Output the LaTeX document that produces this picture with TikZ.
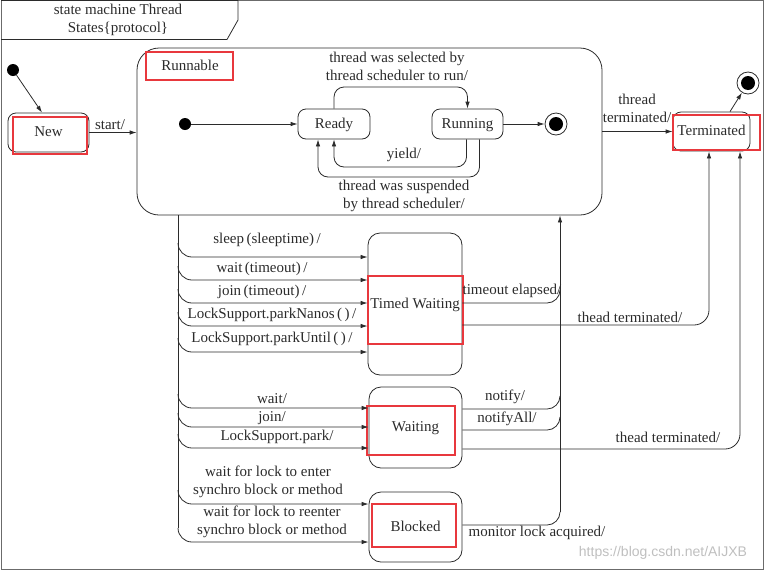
\documentclass[tikz,border=0pt]{standalone}
\usepackage{fontspec}
\setmainfont{Liberation Serif}
\newfontfamily\wmfont{Liberation Sans}
\usetikzlibrary{arrows.meta}
\definecolor{ink}{HTML}{2B2B2B}
\definecolor{hl}{HTML}{E8383D}
\begin{document}
\begin{tikzpicture}[x=1pt,y=-1pt,
  every node/.style={font=\fontsize{15}{18}\selectfont, text=ink},
  lbl/.style={inner sep=0pt, align=center},
  state/.style={draw=ink, line width=0.8pt, rounded corners=8, inner sep=0pt, text height=10pt, text depth=2pt},
  redbox/.style={draw=hl, line width=2.6pt},
  conn/.style={draw=ink, line width=0.8pt},
  arr/.style={conn, -{Latex[length=7pt,width=4.5pt]}},
  dot/.style={circle, fill=black, inner sep=0pt, minimum size=12pt},
  fin/.style={circle, draw=ink, line width=0.8pt, inner sep=0pt, minimum size=22pt},
]
\useasboundingbox (0,0) rectangle (767,571);
% frame and header
\draw[ink!70, line width=0.8pt] (1,0.5) rectangle (763,569);
\draw[ink, line width=0.8pt] (1,0.5) -- (238,0.5) -- (238,20) -- (227,39.5) -- (1,39.5);
\node[lbl] (header) at (118,19.5) {state machine Thread\\States\{protocol\}};

% states
\node[dot] (init1) at (13,70) {};
\node[state, minimum width=81pt, minimum height=39pt] (new) at (48.5,132.5) {New};
\node[state, rounded corners=22, minimum width=465pt, minimum height=167pt] (runnable) at (369.5,131.5) {};
\node[lbl] (runlabel) at (190,65) {Runnable};
\node[dot] (init2) at (185,124) {};
\node[state, minimum width=72pt, minimum height=30pt] (ready) at (334,124) {Ready};
\node[state, minimum width=71pt, minimum height=30pt] (running) at (467.5,124) {Running};
\node[fin] (fin1) at (556,124) {};
\fill[black] (fin1.center) circle (7pt);
\node[state, minimum width=77pt, minimum height=39pt] (terminated) at (711.5,131.5) {Terminated};
\node[fin] (fin2) at (748,83) {};
\fill[black] (fin2.center) circle (7pt);
\node[state, rounded corners=12, minimum width=94pt, minimum height=142pt] (timed) at (415,304) {Timed Waiting};
\node[state, rounded corners=12, minimum width=93pt, minimum height=81pt] (waiting) at (415.5,427.5) {Waiting};
\node[state, rounded corners=12, minimum width=93pt, minimum height=70pt] (blocked) at (415.5,527) {Blocked};

% red highlight boxes
\draw[redbox] (13,117) rectangle (87,154);
\draw[redbox] (146,52) rectangle (233,80);
\draw[redbox] (673,115) rectangle (760,150);
\draw[redbox] (368,276) rectangle (463,344);
\draw[redbox] (367,406) rectangle (455,455);
\draw[redbox] (372,504) rectangle (456,547);

% top connectors
\draw[arr] (init1) -- (new.north -| 42,0);
\draw[arr] (new.east) -- (runnable.west |- new.east);
\node[lbl] (lstart) at (110,125) {start/};
\draw[arr] (init2) -- (ready.west);
\draw[arr, rounded corners=10] (ready.north) -- (ready.north |- 0,87) -| (running.north);
\node[lbl] (lsel) at (397,66) {thread was selected by\\thread scheduler to run/};
\draw[arr, rounded corners=10] ([xshift=-1pt]running.south) -- ([xshift=-1pt]running.south |- 0,167) -| (ready.south);
\node[lbl] (lyield) at (404,155) {yield/};
\draw[arr, rounded corners=10] ([xshift=12pt]running.south) -- ([xshift=12pt]running.south |- 0,177) -| ([xshift=-16pt]ready.south);
\node[lbl] (lsusp) at (404,196) {thread was suspended\\by thread scheduler/};
\draw[arr] (running.east) -- (fin1);
\draw[arr] (runnable.east) -- (terminated.west);
\node[lbl] (lterm) at (637,108.5) {thread\\terminated/};
\draw[arr] (terminated.north -| 730,0) -- (fin2);

% spine from Runnable
\coordinate (sp) at (runnable.south -| 178,0);
\coordinate (ret) at (runnable.south -| 560,0);
\draw[conn] (sp) -- (sp |- 0,528);
\foreach \yy/\tgt in {257/timed,280/timed,303/timed,326/timed,352/timed,408/waiting,427/waiting,448/waiting,504/blocked,542/blocked}{
  \draw[arr, rounded corners=14] (sp |- 0,\yy-14) |- (\tgt.west |- 0,\yy);
}
\node[lbl] (l1) at (267,240) {sleep\,(sleeptime)\,/};
\node[lbl] (l2) at (262,269) {wait\,(timeout)\,/};
\node[lbl] (l3) at (262,292) {join\,(timeout)\,/};
\node[lbl] (l4) at (272,315) {LockSupport.parkNanos\,(\,)\,/};
\node[lbl] (l5) at (272,339) {LockSupport.parkUntil\,(\,)\,/};
\node[lbl] (l6) at (272,399) {wait/};
\node[lbl] (l7) at (272,418) {join/};
\node[lbl] (l8) at (277,437) {LockSupport.park/};
\node[lbl] (l9) at (268,481.5) {wait for lock to enter\\synchro block or method};
\node[lbl] (l10) at (272,521.5) {wait for lock to reenter\\synchro block or method};

% returns to Runnable
\draw[arr] (ret |- 0,512) -- (ret);
\foreach \yy/\src in {303/timed,409/waiting,430/waiting,525/blocked}{
  \draw[conn, rounded corners=13] (\src.east |- 0,\yy) -| (ret |- 0,\yy-13);
}
\node[lbl] (lto) at (512,291) {timeout elapsed/};
\node[lbl] (lnot) at (505,397) {notify/};
\node[lbl] (lnotall) at (507,419) {notifyAll/};
\node[lbl] (lmon) at (537,533) {monitor lock acquired/};

% to Terminated
\draw[arr, rounded corners=15] (timed.east |- 0,325) -| (terminated.south -| 709,0);
\draw[arr, rounded corners=15] (waiting.east |- 0,449) -| (terminated.south -| 740,0);
\node[lbl] (lth1) at (630,317) {thead terminated/};
\node[lbl] (lth2) at (668,437) {thead terminated/};

% watermark
\node[lbl, font=\wmfont\fontsize{14}{16}\selectfont, text=black!25] (wm) at (663,553) {https://blog.csdn.net/AIJXB};
\end{tikzpicture}
\end{document}
